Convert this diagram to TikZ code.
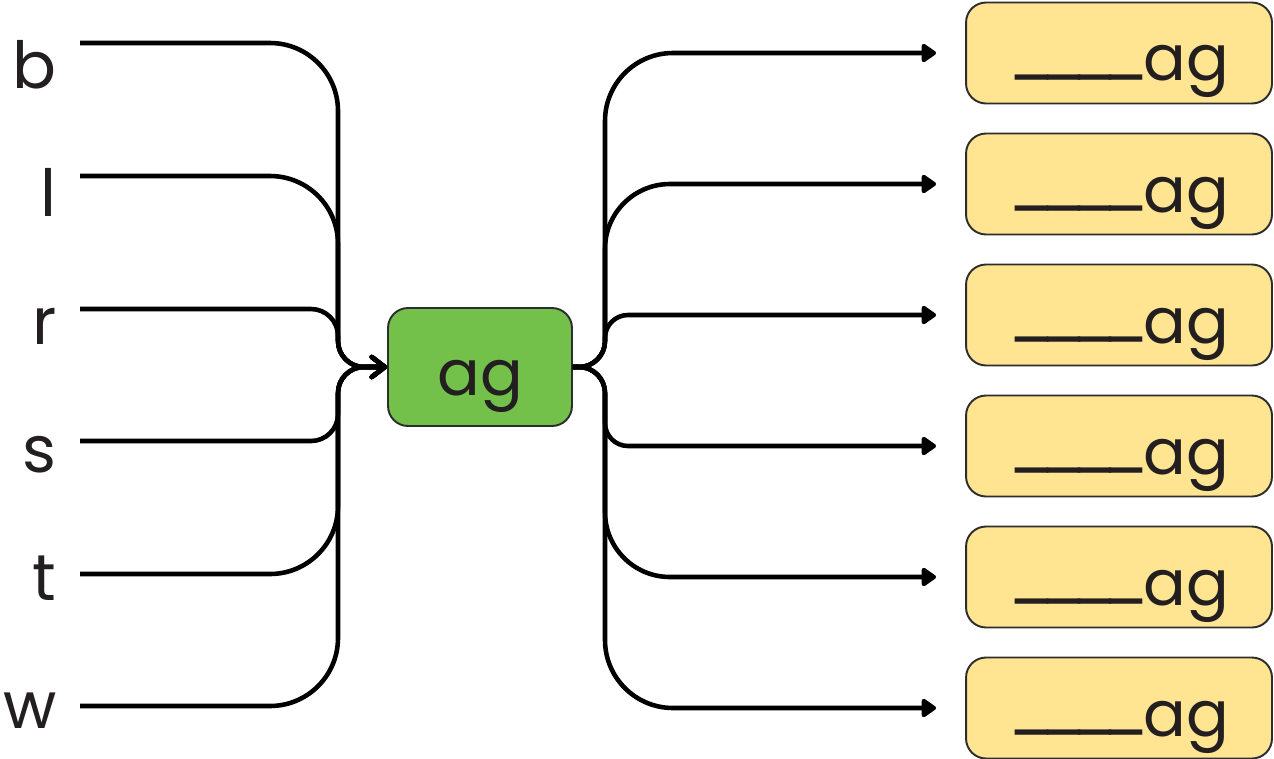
\documentclass[tikz,border=0pt]{standalone}
\usepackage{fontspec}
\setmainfont{Poppins}
\usetikzlibrary{arrows.meta}
\definecolor{aggreen}{RGB}{115,192,75}
\definecolor{agyellow}{RGB}{255,228,146}
\definecolor{agline}{RGB}{45,45,45}
\definecolor{agtext}{RGB}{35,31,32}
\newcommand{\gap}{\raisebox{0.13em}{\_\kern-0.24em\_\kern-0.24em\_\kern-0.24em\_}\kern-0.08em}

\begin{document}
\begin{tikzpicture}[x=0.02cm, y=-0.02cm,
        letter/.style={font=\fontsize{37}{44}\selectfont, text=agtext,
                       inner sep=0pt, anchor=base east},
        wordbox/.style={draw=agline, line width=1.1pt, rounded corners=0.4cm,
                        text=agtext, font=\fontsize{36}{43}\selectfont,
                        text height=1.42cm, text depth=0.3cm, inner sep=0pt},
        stem/.style={wordbox, fill=aggreen,
                     minimum width=3.68cm, minimum height=2.36cm},
        blank/.style={wordbox, fill=agyellow,
                      minimum width=6.12cm, minimum height=2.02cm},
        wire/.style={line width=2.6pt, line join=round},
        intip/.style={-{Straight Barb[round, length=0.26cm, width=0.4cm]}},
        outtip/.style={-{Triangle[round, length=0.32cm, width=0.42cm]},
                       shorten >=0.58cm},
      ]
        \useasboundingbox (0,0) rectangle (1274,758);

        % onsets
        \node[letter] (b) at (57,88) {b};
        \node[letter] (l) at (57,216) {l};
        \node[letter] (r) at (57,344) {r};
        \node[letter] (s) at (57,472) {s};
        \node[letter] (t) at (57,600) {t};
        \node[letter] (w) at (57,728) {w};
        \coordinate (b-in) at (80,43);
        \coordinate (l-in) at (80,176);
        \coordinate (r-in) at (80,309);
        \coordinate (s-in) at (80,441);
        \coordinate (t-in) at (80,574);
        \coordinate (w-in) at (80,706);

        \node[stem] (ag) at (480,367) {ag};
        \coordinate (ltrunk) at (338,367);
        \coordinate (rtrunk) at (605,367);

        \foreach \i/\y in {1/53, 2/184, 3/315, 4/446, 5/577, 6/708}
          \node[blank] (blank\i) at (1119,\y) {\gap ag};

        \foreach \n/\r in {b/1.36cm, l/1.36cm, r/0.54cm,
                           s/0.54cm, t/1.36cm, w/1.36cm}
          \draw[wire, intip] (\n-in) [rounded corners=\r] -- (ltrunk |- \n-in)
                [rounded corners=0.52cm] -- (ltrunk) -- (ag.west);

        \foreach \i/\r in {1/1.36cm, 2/1.3cm, 3/0.46cm,
                           4/0.46cm, 5/1.3cm, 6/1.36cm}
          \draw[wire, outtip] (ag.east) [rounded corners=0.52cm] -- (rtrunk)
                [rounded corners=\r] -- (rtrunk |- blank\i.west) -- (blank\i.west);
      \end{tikzpicture}
\end{document}
